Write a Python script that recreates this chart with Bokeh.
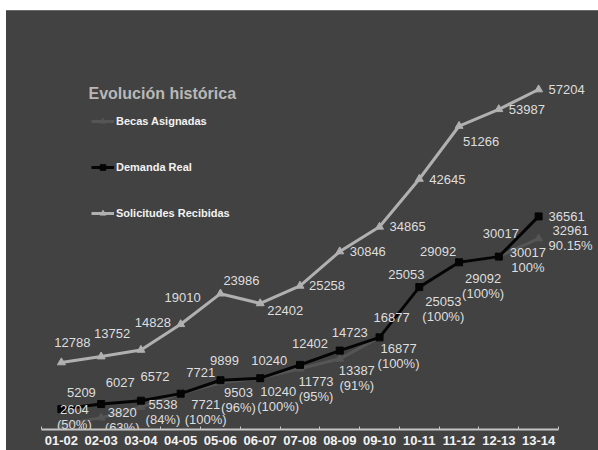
from bokeh.plotting import figure
from bokeh.models import (ColumnDataSource, Range1d, Legend, LegendItem,
                          Label, LinearAxis, FixedTicker, Spacer)
from bokeh.layouts import column, row
from bokeh.core.properties import value
from bokeh.embed import file_html
from bokeh.resources import INLINE

# ---- data -------------------------------------------------------------
cursos = ["01-02", "02-03", "03-04", "04-05", "05-06", "06-07", "07-08",
          "08-09", "09-10", "10-11", "11-12", "12-13", "13-14"]
solicitudes = [12788, 13752, 14828, 19010, 23986, 22402, 25258, 30846,
               34865, 42645, 51266, 53987, 57204]
demanda = [5209, 6027, 6572, 7721, 9899, 10240, 12402, 14723, 16877,
           25053, 29092, 30017, 36561]
becas = [2604, 3820, 5538, 7721, 9503, 10240, 11773, 13387, 16877,
         25053, 29092, 30017, 32961]
becas_pct = ["(50%)", "(63%)", "(84%)", "(100%)", "(96%)", "(100%)", "(95%)",
             "(91%)", "(100%)", "(100%)", "(100%)", "100%", "90.15%"]

# ---- label placement (screen px offsets from each point) ---------------
sol_dx = [11, 11, 12, 2, 21, 25, 27, 28, 28, 28, 22, 28, 28]
sol_dy = [-20, -23, -27, -27, -13, 7, 0, 0, 0, 0, 15, 0, 0]
dem_dx = [20, 19, 14, 20, 4, 9, 10, 10, 12, -13, -21, 2, 28]
dem_dy = [-17, -22, -24, -21, -20, -18, -21, -18, -20, -13, -11, -23, 0]
bec_dx = [13, 21, 22, 25, 18, 18, 16, 17, 19, 24, 24, 29, 32]
bec_dy = [-8, 2, 5, 18, 17, 21, 20, 19, 19, 22, 24, 3, -1]

BG = "#424242"
FONT = "Liberation Sans"

n = len(cursos)
xpos = [i + 0.5 for i in range(n)]          # category centres
bounds = [float(i) for i in range(n + 1)]   # category boundaries (tick marks)

src = ColumnDataSource(dict(
    x=xpos, curso=cursos,
    sol=solicitudes, sol_txt=[str(v) for v in solicitudes], sol_dx=sol_dx, sol_dy=sol_dy,
    dem=demanda, dem_txt=[str(v) for v in demanda], dem_dx=dem_dx, dem_dy=dem_dy,
    bec=becas, bec_txt=[f"{v}\n{pc}" for v, pc in zip(becas, becas_pct)],
    bec_dx=bec_dx, bec_dy=bec_dy,
))

p = figure(x_range=Range1d(0, n + 1.006), y_range=Range1d(1887, 68272),
           width=592, height=439, output_backend="svg", toolbar_location=None,
           x_axis_location=None, y_axis_location=None,
           min_border_left=35, min_border_right=0, min_border_top=10,
           min_border_bottom=21,
           background_fill_color=BG, border_fill_color=BG, outline_line_color=None,
           styles={"background-color": BG})
p.xgrid.visible = False
p.ygrid.visible = False

xaxis = LinearAxis(ticker=FixedTicker(ticks=xpos, minor_ticks=bounds),
                   major_label_overrides={c: lab for c, lab in zip(xpos, cursos)},
                   bounds=(0, n))
xaxis.axis_line_color = "#c4c4c4"
xaxis.axis_line_width = 2
xaxis.major_tick_line_color = None
xaxis.minor_tick_line_color = "#c4c4c4"
xaxis.minor_tick_line_width = 1
xaxis.minor_tick_in = 3
xaxis.minor_tick_out = 0
xaxis.major_tick_in = 0
xaxis.major_tick_out = 0
xaxis.major_label_standoff = 6
xaxis.major_label_text_font = FONT
xaxis.major_label_text_font_style = "bold"
xaxis.major_label_text_font_size = "13px"
xaxis.major_label_text_color = "#f2f2f2"
p.add_layout(xaxis, "below")

# ---- series -----------------------------------------------------------
rb_l = p.line("x", "bec", source=src, line_color="#555555", line_width=3)
rb_p = p.scatter("x", "bec", source=src, marker="triangle", size=8,
                 fill_color="#555555", line_color="#555555")
rd_l = p.line("x", "dem", source=src, line_color="#050505", line_width=3)
rd_p = p.scatter("x", "dem", source=src, marker="square", size=7,
                 fill_color="#050505", line_color="#050505")
rs_l = p.line("x", "sol", source=src, line_color="#b0b0b0", line_width=3)
rs_p = p.scatter("x", "sol", source=src, marker="triangle", size=8,
                 fill_color="#b0b0b0", line_color="#b0b0b0")

lab_kw = dict(source=src, text_align="center", text_baseline="middle",
              text_font=value(FONT), text_font_size="13px", text_color="#dedede")
p.text("x", "sol", text="sol_txt", x_offset="sol_dx", y_offset="sol_dy", **lab_kw)
p.text("x", "dem", text="dem_txt", x_offset="dem_dx", y_offset="dem_dy", **lab_kw)
p.text("x", "bec", text="bec_txt", x_offset="bec_dx", y_offset="bec_dy",
       text_line_height=1.0, **lab_kw)

# ---- legend -----------------------------------------------------------
legend = Legend(items=[
    LegendItem(label="Becas Asignadas", renderers=[rb_l, rb_p]),
    LegendItem(label="Demanda Real", renderers=[rd_l, rd_p]),
    LegendItem(label="Solicitudes Recibidas", renderers=[rs_l, rs_p]),
], location=(50, 209), padding=0, margin=0, spacing=32,
    glyph_width=23, glyph_height=14, label_height=14, label_standoff=2,
    label_text_font=FONT, label_text_font_style="bold", label_text_font_size="11px",
    label_text_color="#f2f2f2", border_line_alpha=0, background_fill_alpha=0)
p.add_layout(legend)

title = Label(x=47, y=335.7, x_units="screen", y_units="screen",
              text="Evolución histórica", text_font=FONT, text_font_style="bold",
              text_font_size="16px", text_color="#b8b8b8", text_baseline="alphabetic")
p.add_layout(title)

top_edge = Spacer(width=592, height=1, styles={"background-color": "#6a6a6a"})
layout = column(Spacer(width=598, height=10),
                row(Spacer(width=6, height=1), top_edge),
                row(Spacer(width=6, height=439), p))

open("out.html", "w").write(file_html(layout, INLINE))
